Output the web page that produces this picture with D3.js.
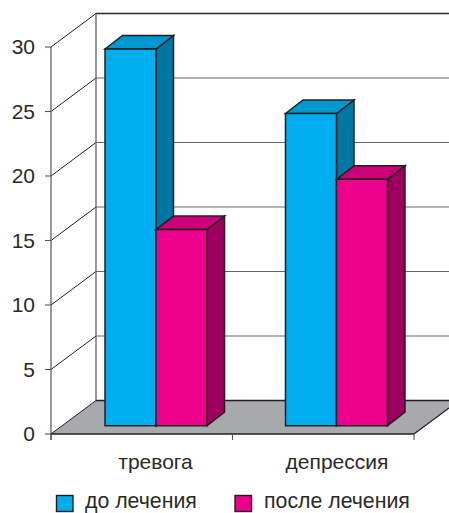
<!DOCTYPE html>
<html><head><meta charset="utf-8">
<script src="https://cdn.jsdelivr.net/npm/d3@7/dist/d3.min.js"></script>
<style>html,body{margin:0;padding:0;background:#fff}svg{display:block}text{font-family:"Liberation Sans",Arial,sans-serif;fill:#2b2a29}</style>
</head><body><script>
const categories = ["тревога", "депрессия"];
const seriesNames = ["до лечения", "после лечения"];
const before = [29.2, 24.2];
const after = [15.2, 19.1];
const yTicks = [0, 5, 10, 15, 20, 25, 30];
const frontColors = ["#00aeef", "#ec008c"];
const topColors = ["#0098d0", "#cc0078"];
const sideColors = ["#0076a3", "#9e005d"];

const W = 449, H = 513;
const svg = d3.select("body").append("svg").attr("width", W).attr("height", H);
const axisCol = "#555", ink = "#231f20";
const wallDx = 45, wallDy = -33.5, barDx = 17.5, barDy = -13.5;

const y = d3.scaleLinear().domain([0, 30]).range([434, 47]);
const x = d3.scaleBand().domain(categories).range([51, 414]);
const barY = d3.scaleLinear().domain([0, 30]).range([425.7, 38.7]);
const group = d3.scaleBand().domain(categories).range([105, 466]);
const inner = d3.scaleBand().domain(seriesNames).range([0, 102]);
const poly = p => "M" + p.map(q => q.join(",")).join("L") + "Z";

// floor
svg.append("path").attr("fill", "#a7a9ac").attr("stroke", "none")
  .attr("d", poly([[x.range()[0], y(0)], [x.range()[1], y(0)], [x.range()[1] + wallDx, y(0) + wallDy], [x.range()[0] + wallDx, y(0) + wallDy]]));
svg.append("line").attr("x1", 96).attr("x2", W).attr("y1", y(0) + wallDy).attr("y2", y(0) + wallDy).attr("stroke", ink).attr("stroke-width", 1.3);
svg.append("line").attr("x1", 414).attr("x2", 449).attr("y1", 434).attr("y2", 434 + wallDy * 35 / 45).attr("stroke", ink).attr("stroke-width", 1.2);

// grid + walls
yTicks.forEach(t => {
  const yy = y(t);
  if (t > 0) svg.append("line").attr("x1", 96).attr("x2", W).attr("y1", yy + wallDy).attr("y2", yy + wallDy)
    .attr("stroke", t === 30 ? "#2b2a29" : "#666").attr("stroke-width", t === 30 ? 1.4 : 1.2);
  svg.append("line").attr("x1", 51).attr("x2", 96).attr("y1", yy).attr("y2", yy + wallDy).attr("stroke", ink).attr("stroke-width", 1);
  svg.append("line").attr("x1", 45).attr("x2", 51).attr("y1", yy).attr("y2", yy).attr("stroke", axisCol).attr("stroke-width", 1.1);
  svg.append("text").attr("x", 35).attr("y", yy + 7).attr("text-anchor", "end").attr("font-size", 21).text(t);
});
svg.append("line").attr("x1", 96).attr("x2", 96).attr("y1", y(30) + wallDy).attr("y2", y(0) + wallDy).attr("stroke", axisCol).attr("stroke-width", 1.2);
svg.append("line").attr("x1", 51).attr("x2", 51).attr("y1", y(30)).attr("y2", 440).attr("stroke", axisCol).attr("stroke-width", 1.2);
svg.append("line").attr("x1", 51).attr("x2", 414).attr("y1", 434).attr("y2", 434).attr("stroke", ink).attr("stroke-width", 1.4);
[51, 51 + x.step(), 414].forEach(v => svg.append("line").attr("x1", v).attr("x2", v).attr("y1", 434).attr("y2", 440).attr("stroke", axisCol).attr("stroke-width", 1.1));

// bars
categories.forEach((c, ci) => {
  [before[ci], after[ci]].forEach((v, si) => {
    const x0 = group(c) + inner(seriesNames[si]), x1 = x0 + inner.bandwidth();
    const y0 = barY(0), y1 = barY(v);
    const g = svg.append("g").attr("stroke", ink).attr("stroke-width", 1.5).attr("stroke-linejoin", "miter");
    g.append("path").attr("fill", sideColors[si]).attr("d", poly([[x1, y1], [x1 + barDx, y1 + barDy], [x1 + barDx, y0 + barDy], [x1, y0]]));
    g.append("path").attr("fill", topColors[si]).attr("d", poly([[x0, y1], [x0 + barDx, y1 + barDy], [x1 + barDx, y1 + barDy], [x1, y1]]));
    g.append("path").attr("fill", frontColors[si]).attr("d", poly([[x0, y1], [x1, y1], [x1, y0], [x0, y0]]));
  });
});

// category labels
const catCenter = [155.5, 337];
categories.forEach((c, i) => svg.append("text").attr("x", catCenter[i]).attr("y", 469).attr("text-anchor", "middle").attr("font-size", 21).text(c));

// legend
const legendX = [56.5, 235], legendTx = [85, 264];
seriesNames.forEach((s, i) => {
  svg.append("rect").attr("x", legendX[i]).attr("y", 495.5).attr("width", 16.5).attr("height", 16).attr("fill", frontColors[i]).attr("stroke", ink).attr("stroke-width", 1.4);
  svg.append("text").attr("x", legendTx[i]).attr("y", 508.3).attr("font-size", 21.3).text(s);
});
</script></body></html>
